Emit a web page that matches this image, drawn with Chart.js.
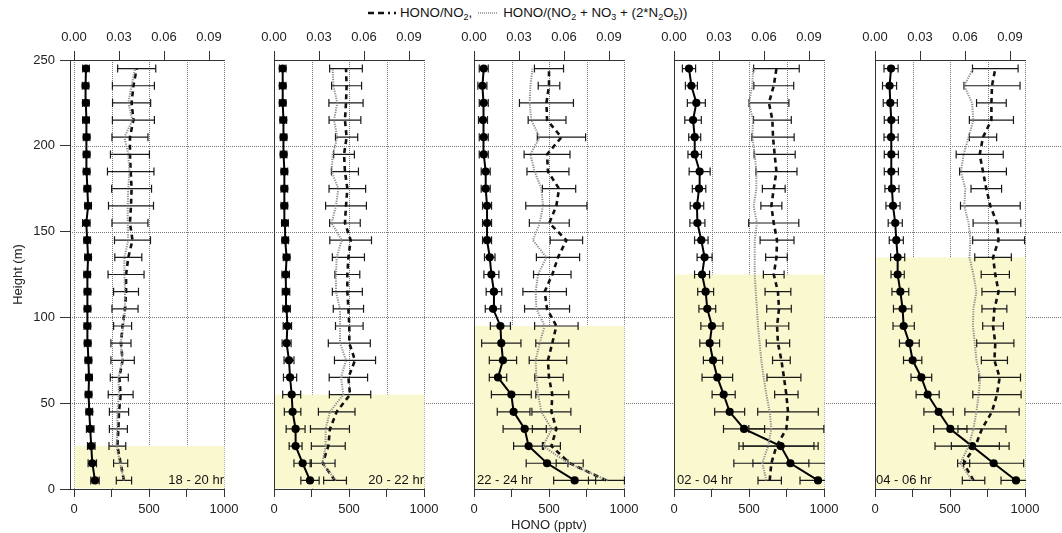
<!DOCTYPE html>
<html>
<head>
<meta charset="utf-8">
<script src="https://cdn.jsdelivr.net/npm/chart.js@4.4.1/dist/chart.umd.min.js"></script>
<style>
  body { margin:0; background:#fff; font-family:"Liberation Sans", Arial, sans-serif; }
  #wrap { position:relative; width:1062px; height:533px; overflow:hidden; }
  #wrap canvas { position:absolute; top:0; }
  .period { position:absolute; top:472px; font-size:13px; color:#111; white-space:nowrap; }
  #legend { position:absolute; top:5px; left:367px; font-size:13.3px; color:#111; white-space:nowrap; display:flex; align-items:center; }
  #legend sub { font-size:9px; vertical-align:-3px; line-height:0; }
  #legend svg { display:block; }
</style>
</head>
<body>
<div id="wrap">
  <div id="legend">
    <svg width="29" height="10" style="margin-right:4px"><line x1="1" y1="5" x2="29" y2="5" stroke="#111" stroke-width="2.5" stroke-dasharray="6 4 6 4 2 4"/></svg>
    <span>HONO/NO<sub>2</sub>,</span>
    <svg width="20" height="10" style="margin:0 5px 0 6px"><line x1="0" y1="5" x2="20" y2="5" stroke="#8c8c8c" stroke-width="1.6" stroke-dasharray="1 1"/></svg>
    <span>HONO/(NO<sub>2</sub> + NO<sub>3</sub> + (2*N<sub>2</sub>O<sub>5</sub>))</span>
  </div>
</div>
<script>
// heights of the profile bins (m), bottom to top
const heights = [5, 15, 25, 35, 45, 55, 65, 75, 85, 95, 105, 115, 125, 135, 145, 155, 165, 175, 185, 195, 205, 215, 225, 235, 245];

const periods = ['18 - 20 hr', '20 - 22 hr', '22 - 24 hr', '02 - 04 hr', '04 - 06 hr'];
const shadeTops = [25, 55, 95, 125, 135];   // top of shaded layer (m)

const heightTicks = [0, 50, 100, 150, 200, 250];
const honoTicks = [0, 250, 500, 750, 1000];
const ratioTicks = [0, 0.03, 0.06, 0.09];

// 18 - 20 hr
const hono1 = [140, 122, 115, 108, 102, 97, 100, 96, 91, 89, 90, 90, 88, 94, 88, 82, 94, 89, 84, 84, 84, 80, 79, 77, 80];
const honoErr1 = [28, 28, 25, 25, 22, 22, 22, 22, 22, 22, 22, 22, 22, 22, 22, 25, 22, 22, 22, 22, 22, 22, 22, 22, 22];
const ratio1 = [.0333, .0311, .0289, .0296, .0300, .0311, .0302, .0324, .0313, .0324, .0340, .0347, .0347, .0362, .0390, .0373, .0380, .0384, .0378, .0373, .0373, .0396, .0384, .0396, .0418];
const ratioErr1 = [.0051, .0047, .0056, .006, .0064, .0083, .006, .0078, .0067, .006, .0087, .0083, .012, .009, .012, .012, .015, .0133, .0155, .013, .012, .014, .0127, .014, .0127];
const ratioAll1 = [.0333, .0307, .0284, .0289, .0289, .0300, .0296, .0324, .0311, .0329, .0340, .0340, .0336, .0336, .0362, .0358, .0358, .0362, .0369, .0362, .0336, .0390, .0362, .0384, .0407];

// 20 - 22 hr
const hono2 = [240, 191, 144, 144, 124, 118, 107, 100, 84, 89, 84, 80, 78, 84, 75, 73, 69, 69, 69, 64, 64, 62, 58, 58, 58];
const honoErr2 = [61, 58, 43, 63, 55, 60, 44, 33, 30, 28, 25, 25, 25, 22, 22, 22, 22, 22, 22, 22, 22, 22, 22, 22, 22];
const ratio2 = [.0407, .0324, .0362, .0373, .0418, .0507, .0496, .0540, .0502, .0502, .0496, .0489, .0489, .0496, .0511, .0473, .0480, .0489, .0473, .0467, .0484, .0473, .0480, .0484, .0480];
const ratioErr2 = [.0076, .0083, .0113, .013, .0122, .0138, .0128, .0137, .014, .0092, .0101, .010, .0083, .0107, .0139, .0102, .0136, .0122, .009, .0069, .0074, .0106, .0114, .010, .0109];
const ratioAll2 = [.0413, .0322, .0344, .0344, .0373, .0462, .0447, .0480, .0440, .0440, .0440, .0413, .0413, .0418, .0451, .0384, .0413, .0429, .0384, .0391, .0422, .0400, .0422, .0396, .0391];

// 22 - 24 hr
const hono3 = [671, 487, 364, 338, 264, 249, 160, 193, 182, 176, 127, 133, 116, 105, 87, 87, 87, 78, 78, 65, 65, 60, 65, 56, 65];
const honoErr3 = [140, 139, 100, 144, 109, 133, 58, 91, 131, 67, 52, 52, 50, 35, 30, 30, 30, 30, 30, 30, 30, 30, 30, 30, 30];
const ratio3 = [.0883, .0638, .0516, .0549, .0516, .0522, .0500, .0493, .0522, .0549, .0487, .0471, .0522, .0560, .0616, .0502, .0549, .0567, .0493, .0487, .0583, .0487, .0483, .0500, .0500];
const ratioErr3 = [.012, .009, .006, .016, .013, .011, .0095, .0125, .011, .0145, .015, .0145, .0125, .0144, .0108, .0133, .0204, .0111, .014, .0153, .0161, .0126, .018, .0072, .0097];
const ratioAll3 = [.0890, .0630, .0460, .0518, .0449, .0427, .0416, .0411, .0438, .0471, .0416, .0411, .0427, .0482, .0393, .0438, .0460, .0449, .0404, .0376, .0438, .0382, .0371, .0376, .0389];

// 02 - 04 hr
const hono4 = [960, 776, 711, 467, 371, 331, 289, 260, 238, 253, 222, 211, 187, 204, 182, 156, 153, 167, 171, 138, 138, 127, 149, 116, 100];
const honoErr4 = [120, 250, 250, 137, 100, 77, 102, 64, 66, 74, 56, 53, 50, 50, 45, 50, 45, 45, 70, 45, 40, 55, 60, 40, 44];
const ratio4 = [.0638, .0649, .0683, .0749, .0760, .0749, .0733, .0716, .0693, .0687, .0700, .0693, .0665, .0683, .0687, .0665, .0649, .0665, .0683, .0671, .0660, .0656, .0633, .0665, .0683];
const ratioErr4 = [.0078, .025, .025, .025, .0202, .0078, .0113, .0059, .0078, .0078, .0082, .0086, .0069, .0072, .0113, .0167, .007, .0076, .0137, .0137, .0141, .0126, .0133, .0133, .0152];
const ratioAll4 = [.0616, .0589, .0627, .0649, .0638, .0616, .0598, .0582, .0571, .0560, .0553, .0545, .0538, .0538, .0538, .0553, .0531, .0549, .0549, .0538, .0522, .0527, .0500, .0522, .0527];

// 04 - 06 hr
const hono5 = [940, 791, 647, 502, 424, 351, 309, 251, 229, 191, 184, 169, 151, 151, 142, 135, 120, 113, 109, 109, 107, 109, 102, 97, 107];
const honoErr5 = [100, 200, 247, 111, 98, 77, 69, 61, 66, 71, 61, 56, 44, 47, 47, 47, 47, 47, 47, 47, 47, 47, 47, 47, 47];
const ratio5 = [.0657, .0591, .0669, .0713, .0780, .0813, .0831, .0796, .0802, .0787, .0796, .0824, .0802, .0787, .0824, .0813, .0769, .0742, .0720, .0698, .0720, .0776, .0776, .0780, .0802];
const ratioErr5 = [.0075, .004, .016, .016, .0181, .0161, .0139, .0087, .0124, .0069, .0083, .0111, .0094, .0122, .0173, .0159, .0199, .0102, .0156, .0157, .0091, .0147, .0099, .0187, .0152];
const ratioAll5 = [.0647, .0569, .0624, .0656, .0676, .0691, .0702, .0676, .0665, .0653, .0656, .0676, .0656, .0630, .0636, .0624, .0595, .0602, .0573, .0591, .0624, .0656, .0647, .0595, .0653];

const honoSeries = [hono1, hono2, hono3, hono4, hono5];
const honoErrSeries = [honoErr1, honoErr2, honoErr3, honoErr4, honoErr5];
const ratioSeries = [ratio1, ratio2, ratio3, ratio4, ratio5];
const ratioErrSeries = [ratioErr1, ratioErr2, ratioErr3, ratioErr4, ratioErr5];
const ratioAllSeries = [ratioAll1, ratioAll2, ratioAll3, ratioAll4, ratioAll5];

// page layout of the five panels
const frames = [
  {left: 0,   width: 250, axisW: 70, padR: 26, xMin: -26.667, labelRight: 224},
  {left: 250, width: 200, axisW: 24, padR: 26, xMin: 0, labelRight: 424},
  {left: 450, width: 200, axisW: 24, padR: 26, xMin: 0, labelLeft: 477},
  {left: 650, width: 200, axisW: 24, padR: 26, xMin: 0, labelLeft: 677},
  {left: 850, width: 212, axisW: 25, padR: 37, xMin: 0, labelLeft: 876}
];

const FONT = {family: '"Liberation Sans", Arial, sans-serif', size: 13};
const INK = '#222';
const SHADE = 'rgb(250,248,207)';

const pairs = (xs) => xs.map((v, i) => ({x: v, y: heights[i]}));

// dotted grid + shaded layer, under everything else
const backdrop = {
  id: 'backdrop',
  beforeDraw(chart, args, o) {
    const {ctx, chartArea: a} = chart;
    const x = chart.scales.x, y = chart.scales.y;
    ctx.save();
    ctx.strokeStyle = '#777';
    ctx.lineWidth = 1;
    ctx.setLineDash([1, 1]);
    [50, 100, 150, 200].forEach(v => {
      const py = Math.round(y.getPixelForValue(v)) + 0.5;
      ctx.beginPath(); ctx.moveTo(o.from, py); ctx.lineTo(chart.width, py); ctx.stroke();
    });
    o.vlines.forEach(v => {
      const px = Math.round(x.getPixelForValue(v)) + 0.5;
      ctx.beginPath(); ctx.moveTo(px, a.top); ctx.lineTo(px, a.bottom); ctx.stroke();
    });
    ctx.setLineDash([]);
    const l = x.getPixelForValue(0), r = x.getPixelForValue(1000);
    const t = y.getPixelForValue(o.shade);
    ctx.fillStyle = SHADE;
    ctx.fillRect(l + 0.5, t, r - l, a.bottom - t - 0.5);
    ctx.restore();
  }
};

// horizontal error bars with end caps
const errorBars = {
  id: 'errorBars',
  beforeDatasetsDraw(chart) {
    const {ctx, chartArea: a} = chart;
    ctx.save();
    ctx.beginPath();
    ctx.rect(a.left, a.top - 6, a.right - a.left + 1, a.bottom - a.top + 12);
    ctx.clip();
    chart.data.datasets.forEach(ds => {
      if (!ds.errX) return;
      const xs = chart.scales[ds.xAxisID], ys = chart.scales.y;
      ctx.strokeStyle = '#1a1a1a';
      ctx.lineWidth = 1.2;
      ds.data.forEach((p, i) => {
        const py = ys.getPixelForValue(p.y);
        const x1 = xs.getPixelForValue(p.x - ds.errX[i]);
        const x2 = xs.getPixelForValue(p.x + ds.errX[i]);
        ctx.beginPath();
        ctx.moveTo(x1, py); ctx.lineTo(x2, py);
        ctx.moveTo(x1, py - 4); ctx.lineTo(x1, py + 4);
        ctx.moveTo(x2, py - 4); ctx.lineTo(x2, py + 4);
        ctx.stroke();
      });
    });
    ctx.restore();
  }
};

const wrap = document.getElementById('wrap');

frames.forEach((f, k) => {
  const cv = document.createElement('canvas');
  cv.width = f.width;
  cv.height = 533;
  cv.style.left = f.left + 'px';
  wrap.appendChild(cv);

  const first = k === 0;
  new Chart(cv, {
    type: 'scatter',
    data: {
      datasets: [
        {
          data: pairs(ratioAllSeries[k]), xAxisID: 'top', showLine: true,
          borderColor: '#8c8c8c', borderWidth: 2, borderDash: [1.2, 1.2], pointRadius: 0
        },
        {
          data: pairs(ratioSeries[k]), xAxisID: 'top', showLine: true, errX: ratioErrSeries[k],
          borderColor: '#111', borderWidth: 2.6, borderDash: [5, 4], pointRadius: 0
        },
        {
          data: pairs(honoSeries[k]), xAxisID: 'x', showLine: true, errX: honoErrSeries[k],
          borderColor: '#000', borderWidth: 2, pointRadius: 3.1,
          pointBackgroundColor: '#000', pointBorderColor: '#000'
        }
      ]
    },
    options: {
      responsive: false,
      animation: false,
      events: [],
      layout: {padding: {left: 0, right: f.padR, top: 0, bottom: 0}},
      plugins: {
        legend: {display: false},
        tooltip: {enabled: false},
        backdrop: {from: first ? 70 : 0, vlines: first ? [0, 250, 500, 750, 1000] : [250, 500, 750, 1000], shade: shadeTops[k]}
      },
      scales: {
        x: {
          type: 'linear', position: 'bottom', min: f.xMin, max: 1000,
          afterBuildTicks: s => { s.ticks = honoTicks.map(v => ({value: v})); },
          afterFit: s => { s.height = 44; s.paddingLeft = 0; s.paddingRight = 0; },
          ticks: {font: FONT, color: INK, padding: 5, maxRotation: 0, autoSkip: false,
                  callback: v => (v % 500 === 0 ? String(v) : '')},
          grid: {drawOnChartArea: false, tickLength: 8, color: '#333'},
          border: {color: '#333', width: 1},
          title: {display: k === 2, text: 'HONO (pptv)', font: FONT, color: INK, padding: {top: 0, bottom: 0}}
        },
        top: {
          type: 'linear', position: 'top', min: f.xMin / 10000, max: 0.1,
          afterBuildTicks: s => { s.ticks = ratioTicks.map(v => ({value: v})); },
          afterFit: s => { s.height = 60; s.paddingLeft = 0; s.paddingRight = 0; },
          ticks: {font: FONT, color: INK, padding: 6, maxRotation: 0, autoSkip: false,
                  callback: v => v.toFixed(2)},
          grid: {drawOnChartArea: false, tickLength: 9, color: '#333'},
          border: {color: '#333', width: 1}
        },
        y: {
          type: 'linear', position: 'left', min: 0, max: 250,
          afterBuildTicks: s => { s.ticks = heightTicks.map(v => ({value: v})); },
          afterFit: s => { s.width = f.axisW; s.paddingTop = 0; s.paddingBottom = 0; },
          ticks: {display: first, font: FONT, color: INK, padding: 5, callback: v => String(v)},
          grid: {drawOnChartArea: false, drawTicks: first, tickLength: 10, color: '#333'},
          border: {color: '#333', width: 1},
          title: {display: first, text: 'Height (m)', font: FONT, color: INK, padding: {top: 11, bottom: 0}}
        }
      }
    },
    plugins: [backdrop, errorBars]
  });

  const lab = document.createElement('div');
  lab.className = 'period';
  lab.textContent = periods[k];
  if (f.labelRight !== undefined) lab.style.right = (1062 - f.labelRight) + 'px';
  else lab.style.left = f.labelLeft + 'px';
  wrap.appendChild(lab);
});
</script>
</body>
</html>
